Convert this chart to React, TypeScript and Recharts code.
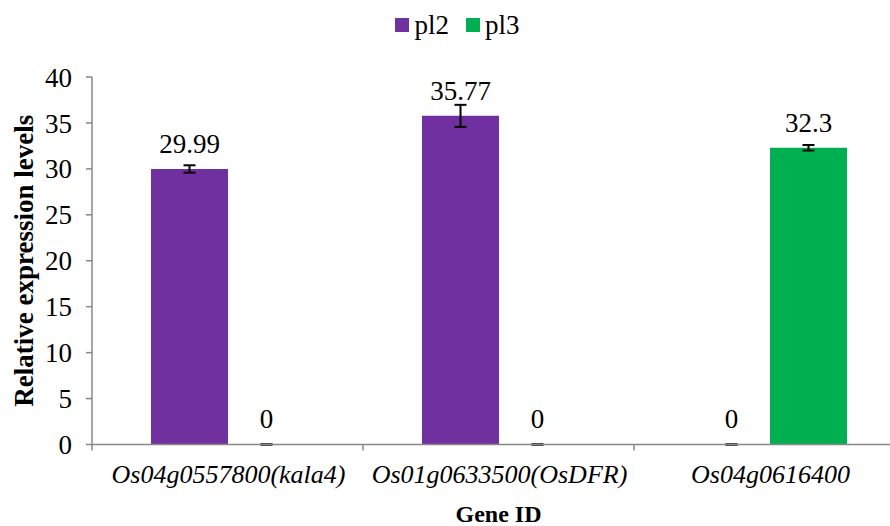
import React from 'react';
import { BarChart, Bar, XAxis, YAxis, Legend, ErrorBar, LabelList, Label, Rectangle } from 'recharts';

const genes = ['Os04g0557800(kala4)', 'Os01g0633500(OsDFR)', 'Os04g0616400'];
const pl2 = [29.99, 35.77, 0];
const pl3 = [0, 0, 32.3];
const pl2Err = [0.4, 1.2, 0];
const pl3Err = [0, 0, 0.3];
const yTicks = [0, 5, 10, 15, 20, 25, 30, 35, 40];

// zero errors as [low, high] pairs so the flat caps still get drawn
const errPair = (e: number) => (e === 0 ? [0, 0] : e);

const data = genes.map((g, i) => ({
  gene: g,
  pl2: pl2[i],
  pl3: pl3[i],
  pl2Err: errPair(pl2Err[i]),
  pl3Err: errPair(pl3Err[i]),
}));

const FONT = "'Liberation Serif', 'Times New Roman', Times, 'DejaVu Serif', serif";
const AXIS = '#878787';
const PURPLE = '#7030A0';
const GREEN = '#00B050';

const CategoryTick = (props: any) => {
  const { x, y, payload } = props;
  const half = payload && payload.offset ? payload.offset : 0;
  return (
    <g>
      <line x1={x - half} y1={y - 6} x2={x - half} y2={y} stroke={AXIS} strokeWidth={1.5} />
      <text x={x + 1} y={y + 14} dy="0.71em" textAnchor="middle" fontFamily={FONT} fontSize={26} fontStyle="italic" fill="#000">
        {payload.value}
      </text>
    </g>
  );
};

const ValueLabel = (props: any) => {
  const { x, y, width, value } = props;
  return (
    <text x={x + width / 2} y={y - 16} textAnchor="middle" fontFamily={FONT} fontSize={27} fill="#000">
      {value}
    </text>
  );
};

// zero bars get a tiny min height so their label and caps are kept, but draw nothing
const BarShape = (props: any) => (props.height > 1 ? <Rectangle {...props} /> : <g />);

const LegendContent = () => (
  <div style={{ height: 67, display: 'flex', justifyContent: 'center', paddingLeft: 10 }}>
    <div style={{ display: 'flex', alignItems: 'center', height: 30, fontFamily: FONT, fontSize: 27, color: '#000' }}>
      <span style={{ width: 14, height: 14, background: PURPLE, display: 'inline-block', marginRight: 5 }} />
      <span style={{ marginRight: 17 }}>pl2</span>
      <span style={{ width: 14, height: 14, background: GREEN, display: 'inline-block', marginRight: 5 }} />
      <span>pl3</span>
    </div>
  </div>
);

export default function App() {
  return (
    <div style={{ position: 'absolute', left: 0, top: 0, width: 890, height: 526, overflow: 'hidden', background: '#fff' }}>
      <BarChart width={910} height={526} data={data} margin={{ top: 10, right: 5, left: 0, bottom: 0 }} barSize={77} barGap={0}>
        <Legend verticalAlign="top" align="center" content={<LegendContent />} />
        <XAxis
          dataKey="gene"
          height={81.5}
          stroke={AXIS}
          strokeWidth={1.5}
          tickLine={false}
          tickSize={6}
          tickMargin={0}
          tick={<CategoryTick />}
          interval={0}
        >
          <Label value="Gene ID" position="insideBottom" offset={4} fontFamily={FONT} fontSize={24} fontWeight="bold" fill="#000" />
        </XAxis>
        <YAxis
          width={92}
          domain={[0, 40]}
          ticks={yTicks}
          interval={0}
          stroke={AXIS}
          strokeWidth={1.5}
          tickSize={6}
          tickMargin={14}
          tick={{ fontFamily: FONT, fontSize: 27, fill: '#000' }}
        >
          <Label
            value="Relative expression levels"
            angle={-90}
            position="insideLeft"
            offset={23}
            fontFamily={FONT}
            fontSize={27}
            fontWeight="bold"
            fill="#000"
            style={{ textAnchor: 'middle' }}
          />
        </YAxis>
        <Bar dataKey="pl2" fill={PURPLE} minPointSize={0.5} shape={<BarShape />} isAnimationActive={false}>
          <ErrorBar dataKey="pl2Err" width={6} stroke="#000" strokeWidth={2} />
          <LabelList dataKey="pl2" content={<ValueLabel />} />
        </Bar>
        <Bar dataKey="pl3" fill={GREEN} minPointSize={0.5} shape={<BarShape />} isAnimationActive={false}>
          <ErrorBar dataKey="pl3Err" width={6} stroke="#000" strokeWidth={2} />
          <LabelList dataKey="pl3" content={<ValueLabel />} />
        </Bar>
      </BarChart>
    </div>
  );
}
